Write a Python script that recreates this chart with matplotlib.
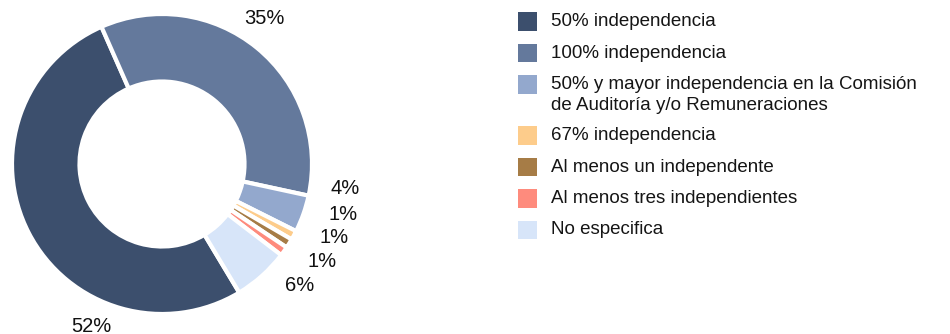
import matplotlib.pyplot as plt
from matplotlib.patches import Rectangle

plt.rcParams["font.family"] = ["Liberation Sans", "DejaVu Sans"]

# Data
categories = ["50% independencia",
              "100% independencia",
              "50% y mayor independencia en la Comisión\nde Auditoría y/o Remuneraciones",
              "67% independencia",
              "Al menos un independente",
              "Al menos tres independientes",
              "No especifica"]
shares = [52, 35, 4, 1, 1, 1, 6]
colors = ["#3c4f6d", "#64799c", "#93a8cd", "#fdcc8b",
          "#a67c46", "#fe8b7d", "#d7e5f9"]

# label placement (x, y in units of the outer radius)
label_pos = [(-0.47, -1.08), (0.68, 0.97), (1.22, -0.16), (1.21, -0.34),
             (1.15, -0.49), (1.07, -0.65), (0.92, -0.81)]

W, H = 950, 334
fig = plt.figure(figsize=(W / 100, H / 100), dpi=100)

# Donut
cx, cy, R = 162, 170, 150
ax = fig.add_axes([(cx - R) / W, (cy - R) / H, 2 * R / W, 2 * R / H])
ax.pie(shares, colors=colors, radius=1, startangle=-59, counterclock=False,
       wedgeprops=dict(width=0.45, edgecolor="white", linewidth=3))
ax.set_xlim(-1, 1)
ax.set_ylim(-1, 1)
ax.set_aspect("equal")
ax.axis("off")
for v, (x, y) in zip(shares, label_pos):
    ax.text(x, y, f"{v}%", ha="center", va="center", fontsize=14.5,
            color="#111111", clip_on=False)

# Legend (pixel positions from the top edge)
y = 21.5
for name, c in zip(categories, colors):
    fig.add_artist(Rectangle((518 / W, 1 - (y + 9.3) / H), 19 / W, 18.6 / H,
                             transform=fig.transFigure, color=c, lw=0))
    lines = name.split("\n")
    for i, line in enumerate(lines):
        fig.text(551 / W, 1 - (y + 20.5 * i) / H, line, ha="left",
                 va="center", fontsize=13.5, color="#151515")
    y += 31.5 + 19.5 * (len(lines) - 1)

fig.savefig("out.png", dpi=100)
